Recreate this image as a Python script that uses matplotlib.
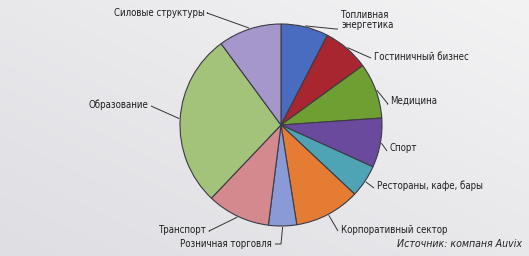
import numpy as np
import matplotlib
matplotlib.use("Agg")
import matplotlib.pyplot as plt
from matplotlib import font_manager

categories = ["Топливная\nэнергетика", "Гостиничный бизнес", "Медицина", "Спорт",
              "Рестораны, кафе, бары", "Корпоративный сектор", "Розничная торговля",
              "Транспорт", "Образование", "Силовые структуры"]
values = [7.6, 7.4, 8.9, 7.9, 5.2, 10.5, 4.5, 10.1, 27.8, 10.1]
colors = ["#4a6cc0", "#a8262f", "#6f9f32", "#6a4a9c", "#4ea3b5",
          "#e57c34", "#8a9ad6", "#d4898e", "#a3c27a", "#a596cc"]
source = "Источник: компаня Auvix"

names = {f.name for f in font_manager.fontManager.ttflist}
if "Liberation Sans Narrow" in names:
    fam = ["Liberation Sans Narrow", "DejaVu Sans"]
    stretch = "normal"
else:
    fam = ["DejaVu Sans"]
    stretch = "condensed"

W, H = 529, 256
fig = plt.figure(figsize=(W / 100, H / 100), dpi=100)
ax = fig.add_axes([0, 0, 1, 1])

# background gradient
gx, gy = np.meshgrid(np.linspace(0, 1, 200), np.linspace(0, 1, 100))
g = 0.5 * gx + 0.5 * gy
bg = np.zeros((100, 200, 3))
c0 = np.array([222, 222, 227]) / 255
c1 = np.array([243, 243, 244]) / 255
for i in range(3):
    bg[:, :, i] = c0[i] + (c1[i] - c0[i]) * g
ax.imshow(bg, extent=(0, W, 0, H), origin="lower", aspect="auto", zorder=0)

cx, cy, R = 281, H - 125, 101
wedges, _ = ax.pie(values, colors=colors, startangle=90, counterclock=False,
                   center=(cx, cy), radius=R,
                   wedgeprops=dict(edgecolor="#3c3c44", linewidth=0.8),
                   frame=True)
for w in wedges:
    w.set_zorder(2)

ax.set_xlim(0, W)
ax.set_ylim(0, H)
ax.set_aspect("auto")
ax.axis("off")

# label layout: (text x, text y (top-origin px), ha, elbow point)
layout = [
    (341, 20, "left", (336, 29)),
    (374, 57, "left", (371, 58)),
    (390, 101, "left", (388, 104)),
    (390, 148, "left", (387, 151)),
    (377, 186, "left", (374, 188)),
    (341, 230, "left", (338, 231)),
    (272, 244, "right", (281, 244)),
    (207, 230, "right", (209, 231)),
    (148, 105, "right", (151, 106)),
    (205, 13, "right", (207, 13)),
]

for w, lab, (tx, ty, ha, elbow) in zip(wedges, categories, layout):
    ang = np.deg2rad((w.theta1 + w.theta2) / 2)
    px = cx + 1.01 * R * np.cos(ang)
    py = cy + 1.01 * R * np.sin(ang)
    ex, ey = elbow[0], H - elbow[1]
    endx = tx + (3 if ha == "right" else -3)
    ax.plot([px, ex, endx], [py, ey, ey], color="#333333", lw=0.7, zorder=3,
            solid_capstyle="butt")
    ax.text(tx, H - ty, lab, ha=ha, va="center", fontsize=6.9, family=fam,
            fontstretch=stretch, color="#1e1e1e", linespacing=1.0, zorder=4)

ax.text(522, H - 244, source, ha="right", va="center", fontsize=7.6,
        family=fam, fontstretch=stretch, style="italic",
        color="#222222", zorder=4)

fig.savefig("out.png", dpi=100)
